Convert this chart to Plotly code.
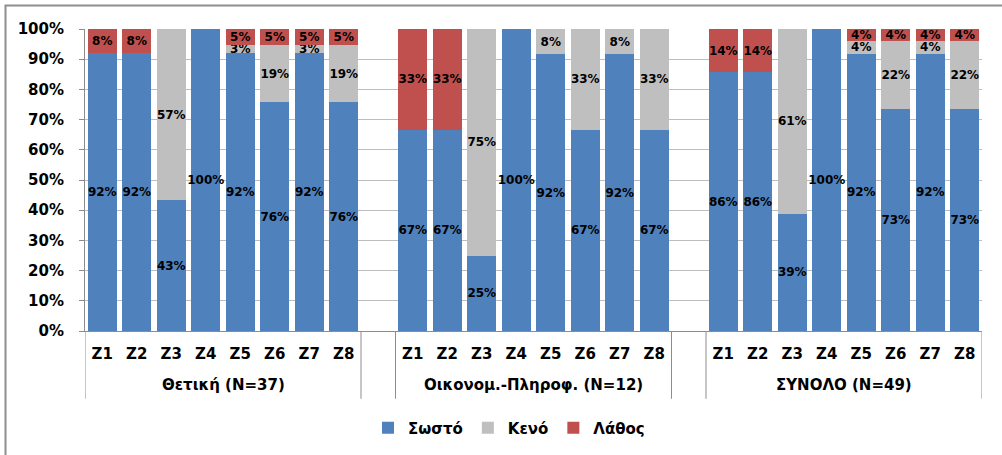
import plotly.graph_objects as go

# Response shares (%) per question, for each student group
questions = ["Z1", "Z2", "Z3", "Z4", "Z5", "Z6", "Z7", "Z8"]
groups = ["Θετική (N=37)", "Οικονομ.-Πληροφ. (N=12)", "ΣΥΝΟΛΟ (N=49)"]

correct_thetiki = [91.89, 91.89, 43.24, 100, 91.89, 75.68, 91.89, 75.68]
blank_thetiki = [0, 0, 56.76, 0, 2.70, 18.92, 2.70, 18.92]
wrong_thetiki = [8.11, 8.11, 0, 0, 5.41, 5.41, 5.41, 5.41]

correct_oikon = [66.67, 66.67, 25, 100, 91.67, 66.67, 91.67, 66.67]
blank_oikon = [0, 0, 75, 0, 8.33, 33.33, 8.33, 33.33]
wrong_oikon = [33.33, 33.33, 0, 0, 0, 0, 0, 0]

correct_total = [85.71, 85.71, 38.78, 100, 91.84, 73.47, 91.84, 73.47]
blank_total = [0, 0, 61.22, 0, 4.08, 22.45, 4.08, 22.45]
wrong_total = [14.29, 14.29, 0, 0, 4.08, 4.08, 4.08, 4.08]

series = [
    ("Σωστό", "#4F81BD", [correct_thetiki, correct_oikon, correct_total]),
    ("Κενό", "#BFBFBF", [blank_thetiki, blank_oikon, blank_total]),
    ("Λάθος", "#C0504D", [wrong_thetiki, wrong_oikon, wrong_total]),
]

FONT = "DejaVu Sans"
AXIS_GRAY = "#8C8C8C"

# Slot layout: each group takes len(questions) slots, with one empty slot between groups
n_q = len(questions)
slot_step = n_q + 1
group_starts = [gi * slot_step for gi in range(len(groups))]
n_slots = group_starts[-1] + n_q

xs, tick_text = [], []
for start in group_starts:
    for qi, q in enumerate(questions):
        xs.append(start + qi)
        tick_text.append(q)

L, R, T, B = 85, 20, 29, 123
W, H = 1002, 455
pw, ph = W - L - R, H - T - B

def px_x(x):
    return (x - L) / pw

def px_y(y):
    return (H - B - y) / ph

fig = go.Figure()
for name, color, per_group in series:
    ys = [v for vals in per_group for v in vals]
    texts = ["" if v == 0 else f"{v:.0f}%" for v in ys]
    fig.add_trace(go.Bar(
        name=name,
        x=xs,
        y=ys,
        marker=dict(color=color, line=dict(width=0)),
        text=texts,
        textposition="inside",
        insidetextanchor="middle",
        textangle=0,
        constraintext="none",
        textfont=dict(family=FONT, size=12, color="black", weight="bold"),
        hoverinfo="skip",
    ))

# Group separators below the axis and group captions
shapes = []
bounds = sorted({s - 0.5 for s in group_starts} | {s + n_q - 0.5 for s in group_starts})
for b in bounds:
    shapes.append(dict(
        type="line", xref="x", yref="paper",
        x0=b, x1=b, y0=0, y1=px_y(400),
        line=dict(color=AXIS_GRAY, width=1),
    ))
shapes.append(dict(
    type="rect", xref="paper", yref="paper",
    x0=px_x(5.5), x1=px_x(1012), y0=px_y(470), y1=px_y(5.5),
    line=dict(color="#8E8E8E", width=2), fillcolor="rgba(0,0,0,0)",
    layer="below",
))

annotations = []
for start, g in zip(group_starts, groups):
    annotations.append(dict(
        x=start + (n_q - 1) / 2, xref="x",
        y=px_y(386), yref="paper",
        text=g, showarrow=False,
        xanchor="center", yanchor="middle",
        font=dict(family=FONT, size=15, color="black", weight="bold"),
    ))

fig.update_layout(
    width=W, height=H,
    margin=dict(l=L, r=R, t=T, b=B),
    barmode="stack",
    bargap=0.16,
    paper_bgcolor="white",
    plot_bgcolor="white",
    font=dict(family=FONT, color="black"),
    uniformtext=dict(minsize=12, mode="show"),
    showlegend=True,
    legend=dict(
        orientation="h",
        traceorder="normal",
        x=px_x(509), xanchor="center",
        y=px_y(428), yanchor="middle",
        font=dict(family=FONT, size=15, color="black", weight="bold"),
        itemclick=False,
    ),
    xaxis=dict(
        range=[-0.5, n_slots - 0.5],
        tickmode="array", tickvals=xs, ticktext=tick_text,
        showline=True, linecolor=AXIS_GRAY, linewidth=1,
        showgrid=False, zeroline=False,
        ticks="",
        ticklabelstandoff=9,
        tickfont=dict(family=FONT, size=15, color="black", weight="bold"),
    ),
    yaxis=dict(
        range=[0, 100],
        dtick=10,
        ticksuffix="%",
        showline=True, linecolor=AXIS_GRAY, linewidth=1,
        showgrid=True, gridcolor="#BDBDBD", gridwidth=1,
        ticks="outside", ticklen=5, tickcolor=AXIS_GRAY,
        ticklabelstandoff=12,
        tickfont=dict(family=FONT, size=15, color="black", weight="bold"),
        zeroline=False,
    ),
    shapes=shapes,
    annotations=annotations,
)

fig.write_html("out.html")
